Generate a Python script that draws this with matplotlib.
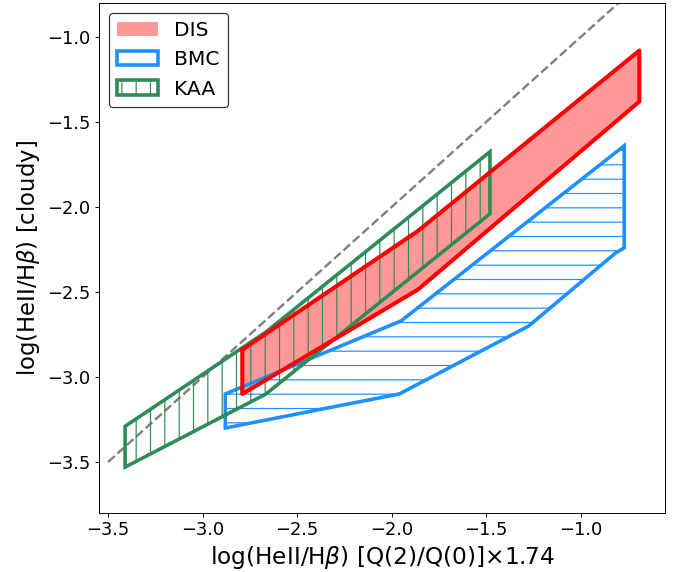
import numpy as np
import matplotlib
matplotlib.use('Agg')
import matplotlib.pyplot as plt
from matplotlib.patches import Polygon

# DIS band (upper / lower edges share the same x)
dis_x = [-2.79, -1.86, -0.69]
dis_upper = [-2.84, -2.14, -1.08]
dis_lower = [-3.10, -2.485, -1.38]

# BMC region
bmc_upper_x = [-2.88, -1.95, -0.77]
bmc_upper_y = [-3.10, -2.67, -1.64]
bmc_lower_x = [-2.88, -1.96, -1.275, -0.815, -0.77]
bmc_lower_y = [-3.30, -3.10, -2.70, -2.27, -2.24]

# KAA region
kaa_x = [-3.41, -2.665, -1.48]
kaa_upper = [-3.29, -2.735, -1.675]
kaa_lower = [-3.53, -3.10, -2.04]

one_to_one = [-3.5, -0.5]

dpi = 86
fig = plt.figure(figsize=(678 / dpi, 572 / dpi), dpi=dpi)
ax = fig.add_axes([99 / 678, (572 - 513) / 572, 566 / 678, 510 / 572])

ax.plot(one_to_one, one_to_one, ls='--', c='gray', lw=2, zorder=1)

# DIS: filled band plus red outline
ax.fill_between(dis_x, dis_lower, dis_upper, color='red', alpha=0.4, lw=0, label='DIS')
out_x = dis_x + dis_x[::-1] + [dis_x[0]]
out_y = dis_upper + dis_lower[::-1] + [dis_upper[0]]
ax.plot(out_x, out_y, c='red', lw=3.4)

# BMC: outline with horizontal hatch
bmc_xy = np.column_stack([bmc_upper_x + bmc_lower_x[::-1], bmc_upper_y + bmc_lower_y[::-1]])
ax.add_patch(Polygon(bmc_xy, closed=True, fill=False, ec='dodgerblue', lw=3,
                     hatch='-', label='BMC'))

# KAA: outline with vertical hatch
kaa_xy = np.column_stack([kaa_x + kaa_x[::-1], kaa_upper + kaa_lower[::-1]])
ax.add_patch(Polygon(kaa_xy, closed=True, fill=False, ec='seagreen', lw=3,
                     hatch='|', label='KAA'))

ax.set_xlim(-3.548, -0.554)
ax.set_ylim(-3.8, -0.8)
ax.set_xticks([-3.5, -3.0, -2.5, -2.0, -1.5, -1.0])
ax.set_yticks([-3.5, -3.0, -2.5, -2.0, -1.5, -1.0])
ax.tick_params(labelsize=15)
ax.set_xlabel(r'log(HeII/H$\beta$) [Q(2)/Q(0)]$\times$1.74', fontsize=19.5)
ax.set_ylabel(r'log(HeII/H$\beta$) [cloudy]', fontsize=19)

leg = ax.legend(loc='upper left', fontsize=17)
leg.get_frame().set_edgecolor('k')

fig.savefig('out.png', dpi=dpi)
